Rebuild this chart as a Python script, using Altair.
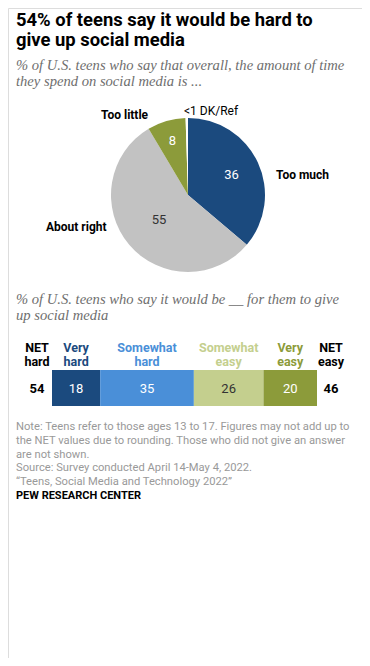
import altair as alt
import pandas as pd

# ---- data ----
pie_cats = ["Too much", "About right", "Too little", "DK/Ref"]
pie_vals = [36, 55, 8, 0.5]
pie_colors = ["#1b4a7e", "#c2c2c2", "#8c9b3a", "#ffffff"]

bar_cats = ["Very hard", "Somewhat hard", "Somewhat easy", "Very easy"]
bar_head1 = ["Very", "Somewhat", "Somewhat", "Very"]
bar_head2 = ["hard", "hard", "easy", "easy"]
bar_vals = [18, 35, 26, 20]
bar_colors = ["#1b4a7e", "#4a8fd8", "#c4cf8e", "#8c9b3a"]
bar_text_colors = ["#ffffff", "#ffffff", "#333333", "#ffffff"]
net_hard = 54
net_easy = 46

title_lines = ["54% of teens say it would be hard to", "give up social media"]
sub1_lines = ["% of U.S. teens who say that overall, the amount of time",
              "they spend on social media is ..."]
sub2_lines = ["% of U.S. teens who say it would be __ for them to give",
              "up social media"]
note_lines = [
    "Note: Teens refer to those ages 13 to 17. Figures may not add up to",
    "the NET values due to rounding. Those who did not give an answer",
    "are not shown.",
    "Source: Survey conducted April 14-May 4, 2022.",
    "\u201cTeens, Social Media and Technology 2022\u201d",
]
credit = "PEW RESEARCH CENTER"

pie_df = pd.DataFrame({"cat": pie_cats, "val": pie_vals, "col": pie_colors,
                       "order": list(range(len(pie_cats)))})
bar_df = pd.DataFrame({"cat": bar_cats, "val": bar_vals, "col": bar_colors,
                       "tcol": bar_text_colors, "h1": bar_head1, "h2": bar_head2})
bar_df["end"] = bar_df["val"].cumsum()
bar_df["start"] = bar_df["end"] - bar_df["val"]
bar_df["mid"] = (bar_df["start"] + bar_df["end"]) / 2

SANS = "Roboto"
SERIF = "Liberation Serif"
one = alt.Data(values=[{}])

def txt(lines, x, y, size, color="#000", weight="normal", font=SANS, style="normal",
        align="left", baseline="alphabetic", lh=None):
    kw = dict(text=lines, fontSize=size, color=color, fontWeight=weight, font=font,
              fontStyle=style, align=align, baseline=baseline)
    if lh is not None:
        kw["lineHeight"] = lh
    return alt.Chart(one).mark_text(**kw).encode(x=alt.value(x), y=alt.value(y))

# ---- pie ----
CX, CY, R = 180, 187, 77
pie_base = alt.Chart(pie_df).encode(
    theta=alt.Theta("val:Q", stack=True),
    order=alt.Order("order:Q"),
    x=alt.value(CX), y=alt.value(CY),
)
pie = pie_base.mark_arc(outerRadius=R).encode(color=alt.Color("col:N", scale=None))

def pie_label(cat, radius, color):
    return pie_base.mark_text(radius=radius, fontSize=13, font=SANS, color=color).encode(
        text=alt.condition(f"datum.cat == '{cat}'", alt.Text("val:Q"), alt.value(""))
    )

pie_labels = [pie_label("Too much", 48, "#ffffff"),
              pie_label("About right", 38, "#333333"),
              pie_label("Too little", 56, "#ffffff")]

# ---- bar ----
xscale = alt.Scale(domain=[0, sum(bar_vals)], range=[44, 309])
bar_base = alt.Chart(bar_df)
bars = bar_base.mark_rect().encode(
    x=alt.X("start:Q", scale=xscale, axis=None),
    x2="end:Q",
    y=alt.value(362), y2=alt.value(398),
    color=alt.Color("col:N", scale=None),
)
bar_vals_txt = bar_base.mark_text(fontSize=13, font=SANS).encode(
    x=alt.X("mid:Q", scale=xscale, axis=None),
    y=alt.value(381),
    text="val:Q",
    color=alt.Color("tcol:N", scale=None),
)
head1 = bar_base.mark_text(fontSize=12.5, font=SANS, fontWeight="bold").encode(
    x=alt.X("mid:Q", scale=xscale, axis=None), y=alt.value(340),
    text="h1:N", color=alt.Color("col:N", scale=None))
head2 = bar_base.mark_text(fontSize=12.5, font=SANS, fontWeight="bold").encode(
    x=alt.X("mid:Q", scale=xscale, axis=None), y=alt.value(354),
    text="h2:N", color=alt.Color("col:N", scale=None))

layers = [
    txt(title_lines, 8, 18, 18.4, "#000", "bold", lh=20),
    txt(sub1_lines, 8, 62, 14.6, "#6e6e6e", font=SERIF, style="italic", lh=16),
    pie, *pie_labels,
    txt("Too much", 268, 167, 12, "#000", "bold", baseline="middle"),
    txt("About right", 38, 219, 12, "#000", "bold", baseline="middle"),
    txt("Too little", 93, 107, 12, "#000", "bold", baseline="middle"),
    txt("<1 DK/Ref", 176, 103, 12, "#000", baseline="middle"),
    txt(sub2_lines, 8, 296, 14.6, "#6e6e6e", font=SERIF, style="italic", lh=16),
    bars, bar_vals_txt, head1, head2,
    txt(["NET", "hard"], 29, 340, 12.5, "#000", "bold", align="center", baseline="middle", lh=14),
    txt(["NET", "easy"], 323, 340, 12.5, "#000", "bold", align="center", baseline="middle", lh=14),
    txt(str(net_hard), 29, 381, 13, "#000", "bold", align="center", baseline="middle"),
    txt(str(net_easy), 323, 381, 13, "#000", "bold", align="center", baseline="middle"),
    txt(note_lines, 8, 422, 11.2, "#999999", lh=13.8),
    txt(credit, 8, 491, 11, "#000", "bold"),
]

chart = alt.layer(*layers).properties(
    width=354, height=650,
    autosize=alt.AutoSizeParams(type="none"),
    padding=0,
).configure_view(stroke=None).configure(background="#ffffff")

chart.save("out.html", embed_options={"renderer": "svg", "actions": False})
